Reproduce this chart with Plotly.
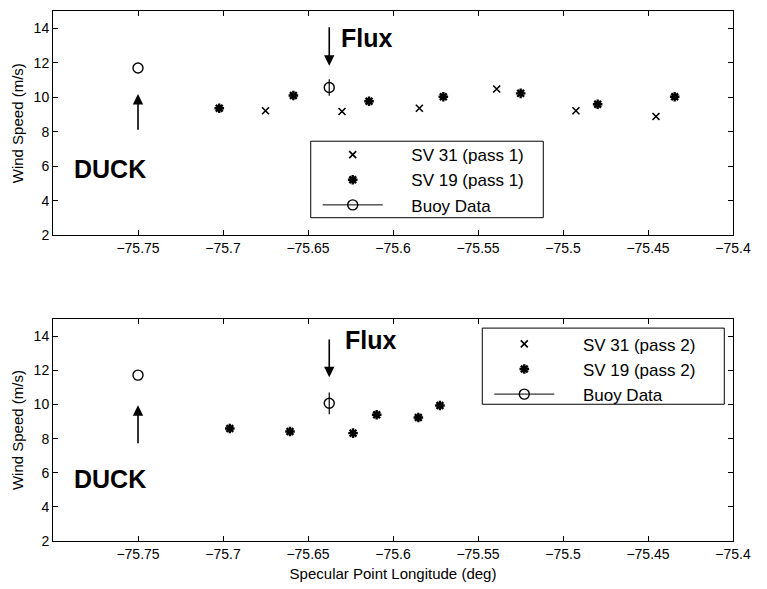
import plotly.graph_objects as go

# ---------------- data ----------------
# Pass 1 (top panel)
sv31_p1_lon = [-75.675, -75.630, -75.5845, -75.539, -75.4924, -75.4453]
sv31_p1_ws = [9.22, 9.18, 9.37, 10.48, 9.22, 8.89]
sv19_p1_lon = [-75.7022, -75.6586, -75.6141, -75.5704, -75.5249, -75.4796, -75.4343]
sv19_p1_ws = [9.37, 10.11, 9.77, 10.03, 10.23, 9.60, 10.03]
buoy_p1_lon = [-75.75, -75.6375]
buoy_p1_ws = [11.70, 10.57]
buoy_p1_err = [0.0, 0.48]

# Pass 2 (bottom panel) -- SV 31 has no points in pass 2
sv31_p2_lon = []
sv31_p2_ws = []
sv19_p2_lon = [-75.696, -75.6606, -75.6235, -75.6096, -75.5851, -75.5724]
sv19_p2_ws = [8.59, 8.42, 8.32, 9.40, 9.24, 9.94]
buoy_p2_lon = [-75.75, -75.6375]
buoy_p2_ws = [11.72, 10.07]
buoy_p2_err = [0.0, 0.64]

# axis ticks
x_tickvals = [-75.75, -75.7, -75.65, -75.6, -75.55, -75.5, -75.45, -75.4]
x_ticktext = ["\u221275.75", "\u221275.7", "\u221275.65", "\u221275.6",
              "\u221275.55", "\u221275.5", "\u221275.45", "\u221275.4"]
y_tickvals = [2, 4, 6, 8, 10, 12, 14]

# site annotations: arrow (tail y, tip y) and label positions per panel
duck_lon = -75.75
flux_lon = -75.6375
p1_duck_arrow = (8.03, 10.19)
p1_flux_arrow = (14.15, 11.83)
p2_duck_arrow = (7.64, 9.95)
p2_flux_arrow = (13.9, 11.6)
p1_duck_label = (-75.7665, 5.87)
p2_duck_label = (-75.7665, 5.62)
p1_flux_label = (-75.6315, 13.45)
p2_flux_label = (-75.6295, 13.8)

# ---------------- figure ----------------
FONT = "Liberation Sans, Arial, Helvetica, sans-serif"
fig = go.Figure()

def gapped(xs):
    out = []
    for i, v in enumerate(xs):
        if i:
            out.append(None)
        out.append(v)
    return out

def add_panel(xa, ya, leg, sv31x, sv31y, sv19x, sv19y, bx, by, berr, pass_no, pad):
    fig.add_trace(go.Scatter(
        x=sv31x or [None], y=sv31y or [None], mode="markers", xaxis=xa, yaxis=ya, legend=leg,
        name=pad + f"SV 31 (pass {pass_no})",
        marker=dict(symbol="x-thin", size=7, line=dict(width=1.6, color="black"), color="black")))
    fig.add_trace(go.Scatter(
        x=sv19x, y=sv19y, mode="markers", xaxis=xa, yaxis=ya, legend=leg,
        name=pad + f"SV 19 (pass {pass_no})",
        marker=dict(symbol="asterisk", size=8, line=dict(width=2.4, color="black"), color="black")))
    fig.add_trace(go.Scatter(
        x=gapped(bx), y=gapped(by), mode="lines+markers", xaxis=xa, yaxis=ya, legend=leg,
        name=pad + "Buoy Data", connectgaps=False,
        line=dict(color="black", width=1),
        marker=dict(symbol="circle-open", size=10, line=dict(width=1.4, color="black"), color="black"),
        error_y=dict(type="data", array=gapped(berr), color="black", thickness=1.2, width=0)))

pad = "\u00a0" * 5
add_panel("x", "y", "legend", sv31_p1_lon, sv31_p1_ws, sv19_p1_lon, sv19_p1_ws,
          buoy_p1_lon, buoy_p1_ws, buoy_p1_err, 1, pad)
add_panel("x2", "y2", "legend2", sv31_p2_lon, sv31_p2_ws, sv19_p2_lon, sv19_p2_ws,
          buoy_p2_lon, buoy_p2_ws, buoy_p2_err, 2, pad)

axis_common = dict(
    showline=True, linecolor="black", linewidth=1, mirror="ticks",
    ticks="inside", ticklen=5, tickcolor="black", tickwidth=1,
    showgrid=False, zeroline=False,
    tickfont=dict(family=FONT, size=14, color="black"),
)
xcommon = dict(axis_common, range=[-75.8, -75.4], tickvals=x_tickvals, ticktext=x_ticktext)
ycommon = dict(axis_common, range=[2, 15], tickvals=y_tickvals)

legend_common = dict(xanchor="left", yanchor="top", borderwidth=0,
                     bgcolor="rgba(0,0,0,0)", font=dict(size=17),
                     itemwidth=60, tracegroupgap=0)

fig.update_layout(
    width=767, height=589,
    margin=dict(l=53, r=34, t=10, b=43),
    paper_bgcolor="white", plot_bgcolor="white",
    font=dict(family=FONT, color="black"),
    xaxis=dict(xcommon, domain=[0, 1], anchor="y"),
    yaxis=dict(ycommon, domain=[0.5765, 1], anchor="x",
               title=dict(text="Wind Speed (m/s)", font=dict(size=15), standoff=6)),
    xaxis2=dict(xcommon, domain=[0, 1], anchor="y2",
                title=dict(text="Specular Point Longitude (deg)", font=dict(size=15), standoff=7)),
    yaxis2=dict(ycommon, domain=[0, 0.4185], anchor="x2",
                title=dict(text="Wind Speed (m/s)", font=dict(size=15), standoff=6)),
    legend=dict(legend_common, x=0.3893, y=0.762),
    legend2=dict(legend_common, x=0.6416, y=0.405),
    showlegend=True,
)

# legend frames
fig.add_shape(type="rect", xref="paper", yref="paper", x0=0.379, x1=0.721, y0=0.610, y1=0.7543,
              line=dict(color="black", width=1), fillcolor="white", layer="below")
fig.add_shape(type="rect", xref="paper", yref="paper", x0=0.6313, x1=0.9872, y0=0.258, y1=0.4017,
              line=dict(color="black", width=1), fillcolor="white", layer="below")

def arrow(xa, ya, x, tail, tip):
    fig.add_annotation(x=x, y=tip, ax=x, ay=tail, xref=xa, yref=ya, axref=xa, ayref=ya,
                       text="", showarrow=True, arrowhead=2, arrowsize=1.3,
                       arrowwidth=1.6, arrowcolor="black")

def label(xa, ya, pos, text, anchor):
    fig.add_annotation(x=pos[0], y=pos[1], xref=xa, yref=ya, text=f"<b>{text}</b>",
                       showarrow=False, xanchor=anchor, yanchor="middle",
                       font=dict(family=FONT, size=25, color="black"))

arrow("x", "y", duck_lon, *p1_duck_arrow)
arrow("x", "y", flux_lon, *p1_flux_arrow)
arrow("x2", "y2", duck_lon, *p2_duck_arrow)
arrow("x2", "y2", flux_lon, *p2_flux_arrow)
label("x", "y", p1_duck_label, "DUCK", "center")
label("x2", "y2", p2_duck_label, "DUCK", "center")
label("x", "y", p1_flux_label, "Flux", "left")
label("x2", "y2", p2_flux_label, "Flux", "left")

fig.write_html("out.html", config={"displayModeBar": False},
               post_script="document.body.style.margin='0px';")
